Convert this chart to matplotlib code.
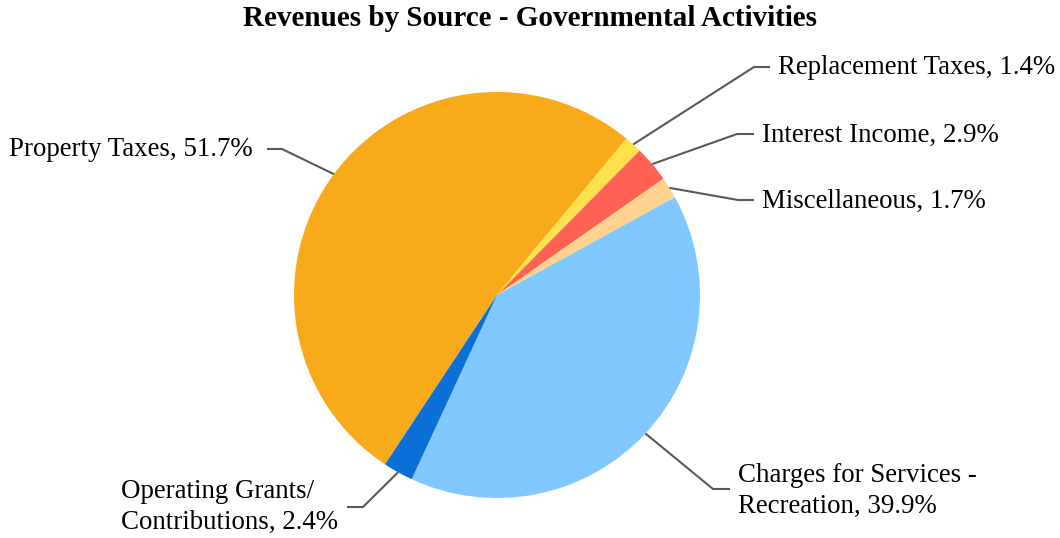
import matplotlib
matplotlib.use("Agg")
import matplotlib.pyplot as plt
import numpy as np

categories = ["Property Taxes", "Replacement Taxes", "Interest Income", "Miscellaneous",
              "Charges for Services -\nRecreation", "Operating Grants/\nContributions"]
values = [51.7, 1.4, 2.9, 1.7, 39.9, 2.4]
colors = ["#F9AA1B", "#FFE14B", "#FF6254", "#FFD38E", "#80C8FF", "#0B6FD8"]

W, H = 1060, 538
fig = plt.figure(figsize=(W / 100, H / 100), dpi=100)
ax = fig.add_axes([0, 0, 1, 1])

cx, cy, r = 497, H - 295, 203
start = 50.4 + values[0] * 3.6
wedges, _ = ax.pie(values, colors=colors, startangle=start, counterclock=False,
                   center=(cx, cy), radius=r, frame=True,
                   wedgeprops=dict(linewidth=0))
ax.set_xlim(0, W)
ax.set_ylim(0, H)
ax.set_aspect("equal")
ax.axis("off")

plt.rcParams["font.family"] = ["Liberation Serif", "DejaVu Serif"]
fs = 19.4

label_specs = [
    dict(elbow=(282, 149), hend=267, tx=253, ty=150, ha="right"),
    dict(elbow=(754, 67), hend=770, tx=778, ty=68, ha="left"),
    dict(elbow=(737, 134), hend=754, tx=762, ty=135, ha="left"),
    dict(elbow=(738, 200), hend=754, tx=762, ty=201, ha="left"),
    dict(elbow=(713, 489), hend=730, tx=738, ty=491, ha="left"),
    dict(elbow=(363, 507), hend=347, tx=121, ty=507, ha="left"),
]

for w, cat, val, spec in zip(wedges, categories, values, label_specs):
    ang = np.deg2rad((w.theta1 + w.theta2) / 2)
    ex = cx + r * np.cos(ang)
    ey = cy + r * np.sin(ang)
    elx, ely = spec["elbow"]
    ely = H - ely
    ax.plot([ex, elx, spec["hend"]], [ey, ely, ely], color="#595959", lw=1.5,
            solid_capstyle="butt", zorder=3)
    ax.text(spec["tx"], H - spec["ty"], f"{cat}, {val}%", ha=spec["ha"], va="center",
            fontsize=fs, color="black", linespacing=1.34)

ax.text(W / 2, H - 19, "Revenues by Source - Governmental Activities", ha="center",
        va="center", fontsize=21, fontweight="bold", color="black")

fig.savefig("out.png", dpi=100)
